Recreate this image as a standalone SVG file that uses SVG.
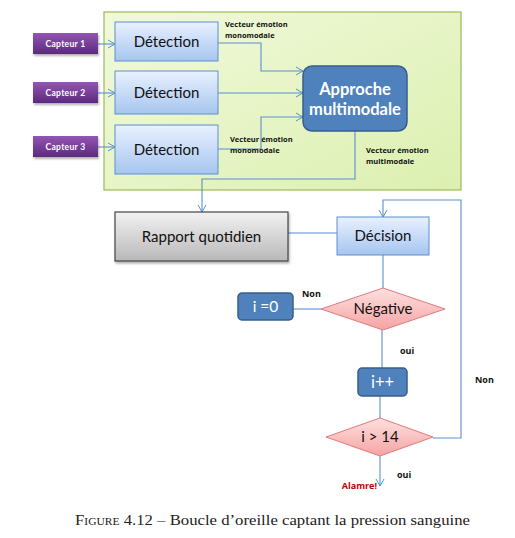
<svg xmlns="http://www.w3.org/2000/svg" width="515" height="538" viewBox="0 0 515 538">
<defs>
<linearGradient id="gPanel" x1="0" y1="0" x2="1" y2="1"><stop offset="0" stop-color="#f1f9dc"/><stop offset="1" stop-color="#dcf0b0"/></linearGradient>
<linearGradient id="gPurple" x1="0" y1="0" x2="0" y2="1"><stop offset="0" stop-color="#9455b5"/><stop offset="1" stop-color="#5b2a7c"/></linearGradient>
<linearGradient id="gBlue" x1="0" y1="0" x2="0" y2="1"><stop offset="0" stop-color="#e9f1ff"/><stop offset="1" stop-color="#a6c5ef"/></linearGradient>
<linearGradient id="gGray" x1="0" y1="0" x2="0" y2="1"><stop offset="0" stop-color="#f2f2f2"/><stop offset="1" stop-color="#b8b8b8"/></linearGradient>
<linearGradient id="gPink" x1="0" y1="0" x2="0" y2="1"><stop offset="0" stop-color="#ffe0e0"/><stop offset="1" stop-color="#f5a3a3"/></linearGradient>
<marker id="arr" markerWidth="10" markerHeight="10" refX="8" refY="5" orient="auto" markerUnits="userSpaceOnUse"><path d="M1,1 L8,5 L1,9" fill="none" stroke="#5b8fd0" stroke-width="1"/></marker>
<filter id="sh" x="-10%" y="-10%" width="130%" height="140%"><feDropShadow dx="1" dy="2" stdDeviation="1" flood-color="#000" flood-opacity="0.3"/></filter>
</defs>
<style>
.cap{font-family:Lato,"Liberation Sans",sans-serif;font-size:8.5px;font-weight:bold;fill:#fff;text-anchor:middle;letter-spacing:0.3px;}
.lbl{font-family:"Open Sans",Lato,"Liberation Sans",sans-serif;font-size:7.5px;font-weight:bold;fill:#111;}
.mid{font-family:Lato,"Open Sans","Liberation Sans",sans-serif;font-size:15px;fill:#111;text-anchor:middle;}
.wh{font-family:Lato,"Open Sans","Liberation Sans",sans-serif;fill:#fff;text-anchor:middle;}
.ln{fill:none;stroke:#5b8fd0;stroke-width:1.1;}
.det{fill:url(#gBlue);stroke:#5b8fd0;stroke-width:1;}
.dk{fill:#4f81bd;stroke:#385d8a;stroke-width:1.5;}
.dia{fill:url(#gPink);stroke:#e07a7a;stroke-width:1;}
.sm{font-family:"Open Sans",Lato,"Liberation Sans",sans-serif;font-size:9px;font-weight:bold;fill:#111;}
</style>
<rect id="panel" x="104" y="12" width="357" height="178" fill="url(#gPanel)" stroke="#9bbb59" stroke-width="1.2"/>
<g id="connectors">
<path class="ln" d="M98,44 H115" marker-end="url(#arr)"/>
<path class="ln" d="M98,93 H115" marker-end="url(#arr)"/>
<path class="ln" d="M98,147 H115" marker-end="url(#arr)"/>
<path class="ln" d="M218,43 H261 V71 H303" marker-end="url(#arr)"/>
<path class="ln" d="M218,93 H303" marker-end="url(#arr)"/>
<path class="ln" d="M218,149 H261 V117 H303" marker-end="url(#arr)"/>
<path class="ln" d="M355,131 V179 H202 V212" marker-end="url(#arr)"/>
<path class="ln" d="M288,233 H337"/>
<path class="ln" d="M383,255 V288"/>
<path class="ln" d="M293,309 H321"/>
<path class="ln" d="M382,330 V368"/>
<path class="ln" d="M380,396 V418"/>
<path class="ln" d="M433,438 H461 V200 H383 V217" marker-end="url(#arr)"/>
<path class="ln" d="M380,456 V486" marker-end="url(#arr)"/>
</g>
<g id="capteur1"><rect x="33" y="33" width="65" height="21" fill="url(#gPurple)" filter="url(#sh)"/><text class="cap" x="65.5" y="47">Capteur  1</text></g>
<g id="capteur2"><rect x="33" y="82" width="65" height="21" fill="url(#gPurple)" filter="url(#sh)"/><text class="cap" x="65.5" y="96">Capteur 2</text></g>
<g id="capteur3"><rect x="33" y="136" width="65" height="21" fill="url(#gPurple)" filter="url(#sh)"/><text class="cap" x="65.5" y="150">Capteur  3</text></g>
<g id="detection1"><rect class="det" x="115" y="22" width="103" height="39"/><text class="mid" x="166.5" y="47">Détection</text></g>
<g id="detection2"><rect class="det" x="115" y="71" width="103" height="43"/><text class="mid" x="166.5" y="98">Détection</text></g>
<g id="detection3"><rect class="det" x="115" y="125" width="103" height="49"/><text class="mid" x="166.5" y="155">Détection</text></g>
<g id="approche"><rect class="dk" x="303" y="66" width="104" height="65" rx="9"/><text class="wh" x="355" y="95" font-size="16.5" font-weight="bold">Approche</text><text class="wh" x="355" y="115" font-size="16.5" font-weight="bold">multimodale</text></g>
<g id="labels">
<text class="lbl" x="225" y="27">Vecteur  émotion</text><text class="lbl" x="225" y="38">monomodale</text>
<text class="lbl" x="230" y="142">Vecteur  émotion</text><text class="lbl" x="230" y="153">monomodale</text>
<text class="lbl" x="366" y="153" font-weight="600">Vecteur  émotion</text><text class="lbl" x="366" y="164" font-weight="600">multimodale</text>
</g>
<g id="rapport"><rect x="115" y="212" width="173" height="49" fill="url(#gGray)" stroke="#444" stroke-width="1.2" filter="url(#sh)"/><text class="mid" x="201.5" y="242" font-size="15.5">Rapport quotidien</text></g>
<g id="decision"><rect class="det" x="337" y="217" width="92" height="38"/><text class="mid" x="383" y="241" font-size="15.5">Décision</text></g>
<g id="negative"><polygon class="dia" points="383,288 445,309 383,330 321,309"/><text class="mid" x="383" y="314" font-size="15">Négative</text></g>
<g id="i0"><rect class="dk" x="238" y="293" width="55" height="27" rx="4"/><text class="wh" x="265.5" y="312" font-size="15.5">i =0</text></g>
<text class="sm" x="302" y="297">Non</text>
<text class="sm" x="400" y="354">oui</text>
<g id="iplus"><rect class="dk" x="358" y="368" width="49" height="28" rx="4"/><text class="wh" x="382.5" y="388" font-size="16.5">i++</text></g>
<g id="i14"><polygon class="dia" points="380,418 433,437 380,456 326,437"/><text class="mid" x="380" y="442" font-size="15">i &gt; 14</text></g>
<text class="sm" x="475" y="383">Non</text>
<text class="sm" x="397" y="478">oui</text>
<text x="377" y="489" font-family="'Open Sans',Lato,'Liberation Sans',sans-serif" font-size="9" font-weight="bold" fill="#c00000" text-anchor="end">Alamre!</text>
<text x="75" y="525" font-family="'Liberation Serif',serif" font-size="14.5" fill="#222" textLength="395" lengthAdjust="spacingAndGlyphs"><tspan font-variant="small-caps">Figure</tspan> 4.12 – Boucle d’oreille captant la pression sanguine</text>
</svg>
